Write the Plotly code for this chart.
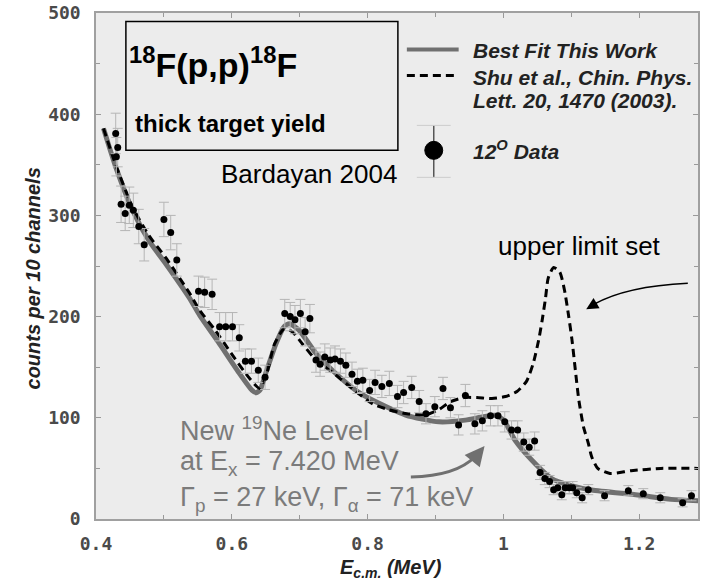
import plotly.graph_objects as go

# ---------------- data ----------------
data_x = [0.429, 0.432, 0.430, 0.437, 0.443, 0.449, 0.455, 0.463, 0.471, 0.500, 0.510, 0.519,
          0.551, 0.560, 0.571, 0.582, 0.591, 0.601, 0.611, 0.620, 0.629, 0.639, 0.649,
          0.678, 0.686, 0.693, 0.701, 0.708, 0.715, 0.724, 0.730, 0.737, 0.745, 0.752, 0.760,
          0.768, 0.777, 0.785, 0.793, 0.803, 0.811, 0.821, 0.832, 0.844, 0.853, 0.865, 0.876,
          0.886, 0.899, 0.911, 0.922, 0.934, 0.944, 0.958, 0.969, 0.981, 0.992, 1.002, 1.012,
          1.021, 1.030, 1.038, 1.046, 1.054, 1.061, 1.068, 1.074, 1.080, 1.086, 1.091, 1.097,
          1.102, 1.108, 1.116, 1.125, 1.149, 1.184, 1.206, 1.231, 1.264, 1.277]
data_y = [381, 367, 358, 311, 302, 310, 305, 289, 271, 296, 283, 256,
          225, 224, 222, 190, 190, 190, 179, 156, 156, 147, 140,
          203, 200, 197, 203, 185, 198, 157, 153, 160, 157, 158, 156,
          152, 143, 136, 137, 127, 135, 131, 134, 121, 125, 130, 116,
          104, 111, 129, 110, 93, 122, 94, 97, 102, 102, 96, 88,
          88, 76, 71, 77, 46, 40, 37, 29, 31, 24, 31, 31,
          31, 26, 21, 29, 23, 28, 25, 21, 16, 23]
data_err = [20, 19, 19, 18, 17, 18, 17, 17, 16, 17, 17, 16,
            15, 15, 15, 14, 14, 14, 13, 12, 12, 12, 12,
            14, 14, 14, 14, 14, 14, 12, 12, 13, 12, 13, 12,
            12, 12, 12, 12, 11, 12, 11, 12, 11, 11, 11, 11,
            10, 10, 11, 10, 10, 11, 10, 10, 10, 10, 10, 9,
            9, 9, 8, 9, 7, 6, 6, 5, 6, 5, 6, 6,
            6, 5, 5, 5, 5, 5, 5, 5, 4, 5]

fit_x = [0.411, 0.429, 0.454, 0.478, 0.503, 0.537, 0.553, 0.580, 0.610, 0.630, 0.636, 0.642,
         0.650, 0.665, 0.677, 0.685, 0.699, 0.724, 0.748, 0.783, 0.807, 0.856, 0.905, 0.944,
         0.970, 0.988, 1.000, 1.017, 1.042, 1.071, 1.100, 1.130, 1.198, 1.247, 1.290]
fit_y = [386, 348, 305, 275, 252, 219, 201, 175, 145, 127, 124.7, 128,
         144, 173, 190, 193, 186.6, 163.6, 147, 127, 117.5, 102.7, 96, 97.7,
         101, 102.5, 98, 78, 58, 40, 33, 28.6, 23.7, 19.4, 18]

shu_x = [0.411, 0.429, 0.454, 0.478, 0.503, 0.537, 0.553, 0.575, 0.601, 0.626, 0.641, 0.650,
         0.663, 0.677, 0.689, 0.704, 0.724, 0.748, 0.783, 0.807, 0.831, 0.858, 0.886, 0.905,
         0.922, 0.942, 0.961, 0.983, 1.003, 1.020, 1.034, 1.044, 1.052, 1.057, 1.062, 1.066,
         1.074, 1.083, 1.090, 1.096, 1.101, 1.106, 1.111, 1.118, 1.125, 1.130, 1.139, 1.157,
         1.188, 1.232, 1.290]
shu_y = [386, 350, 308, 280, 258, 224, 206, 187, 162, 139, 129, 140,
         173, 188, 185, 173, 157, 145, 126, 114, 108, 104, 103, 108,
         116, 120, 120, 119, 121, 126, 136, 154, 177, 196, 218, 238,
         248.5, 244, 226, 201, 177, 147, 118, 91, 75, 61.5, 50, 45,
         47.7, 50, 50]

x_tickvals = [0.4, 0.6, 0.8, 1.0, 1.2]
x_ticktext = ["0.4", "0.6", "0.8", "1", "1.2"]
y_tickvals = [0, 100, 200, 300, 400, 500]
y_ticktext = ["0", "100", "200", "300", "400", "500"]

# pixel -> data helpers for annotation placement
def X(px):
    return 0.4 + (px - 96) / 681.5

def Y(py):
    return (519 - py) / 1.013

fig = go.Figure()

fig.add_trace(go.Scatter(x=fit_x, y=fit_y, mode="lines", line=dict(color="#707070", width=5, shape="spline", smoothing=0.6),
                         showlegend=False, hoverinfo="skip"))
fig.add_trace(go.Scatter(x=shu_x, y=shu_y, mode="lines", line=dict(color="black", width=3, dash="8px,5px", shape="spline", smoothing=0.6),
                         showlegend=False, hoverinfo="skip"))
fig.add_trace(go.Scatter(x=data_x, y=data_y, mode="markers",
                         marker=dict(color="black", size=7),
                         error_y=dict(type="data", array=data_err, color="#b5b5b5", thickness=1, width=5),
                         showlegend=False))

SANS = "Liberation Sans, Arial, sans-serif"
ann = []
shapes = []

# title box
shapes.append(dict(type="rect", xref="x", yref="y", x0=X(126), x1=X(399), y0=Y(150), y1=Y(21),
                   line=dict(color="black", width=1.5), layer="above"))
ann.append(dict(x=X(127), y=Y(62), text="<b><sup>18</sup>F(p,p)<sup>18</sup>F</b>", showarrow=False,
                xanchor="left", yanchor="middle", font=dict(family=SANS, size=34, color="black")))
ann.append(dict(x=X(133), y=Y(123), text="<b>thick target yield</b>", showarrow=False,
                xanchor="left", yanchor="middle", font=dict(family=SANS, size=24, color="black")))
ann.append(dict(x=X(219), y=Y(174), text="Bardayan 2004", showarrow=False,
                xanchor="left", yanchor="middle", font=dict(family=SANS, size=26, color="black")))

# legend
shapes.append(dict(type="line", xref="x", yref="y", x0=X(408), x1=X(460), y0=Y(49), y1=Y(49),
                   line=dict(color="#707070", width=4)))
shapes.append(dict(type="line", xref="x", yref="y", x0=X(408), x1=X(460), y0=Y(75), y1=Y(75),
                   line=dict(color="black", width=3, dash="8px,5px")))
shapes.append(dict(type="line", xref="x", yref="y", x0=X(435), x1=X(435), y0=Y(125), y1=Y(177),
                   line=dict(color="#555555", width=1.5)))
shapes.append(dict(type="line", xref="x", yref="y", x0=X(418), x1=X(452), y0=Y(125), y1=Y(125),
                   line=dict(color="#cccccc", width=1)))
shapes.append(dict(type="line", xref="x", yref="y", x0=X(418), x1=X(452), y0=Y(177), y1=Y(177),
                   line=dict(color="#cccccc", width=1)))
shapes.append(dict(type="circle", xref="x", yref="y", x0=X(426), x1=X(444), y0=Y(159), y1=Y(141),
                   line=dict(color="black", width=1), fillcolor="black"))
LEGF = dict(family=SANS, size=21, color="#222222")
ann.append(dict(x=X(472), y=Y(50), text="<b><i>Best Fit This Work</i></b>", showarrow=False,
                xanchor="left", yanchor="middle", font=LEGF))
ann.append(dict(x=X(472), y=Y(77), text="<b><i>Shu et al., Chin. Phys.</i></b>", showarrow=False,
                xanchor="left", yanchor="middle", font=LEGF))
ann.append(dict(x=X(472), y=Y(100), text="<b><i>Lett. 20, 1470 (2003).</i></b>", showarrow=False,
                xanchor="left", yanchor="middle", font=LEGF))
ann.append(dict(x=X(472), y=Y(150), text="<b><i>12<sup>O</sup> Data</i></b>", showarrow=False,
                xanchor="left", yanchor="middle", font=LEGF))

# upper limit annotation
ann.append(dict(x=X(581), y=Y(246), text="upper limit set", showarrow=False,
                xanchor="center", yanchor="middle", font=dict(family=SANS, size=26, color="black")))
shapes.append(dict(type="path", xref="x", yref="y",
                   path=f"M {X(690)},{Y(283)} Q {X(628)},{Y(286)} {X(596)},{Y(304)}",
                   line=dict(color="black", width=1.5)))
ann.append(dict(x=X(588), y=Y(309), ax=12, ay=-7, text="", showarrow=True, arrowhead=2,
                arrowsize=1.6, arrowwidth=1.5, arrowcolor="black"))

# new level annotation
GRAY = dict(family=SANS, size=27, color="#7b7b7b")
ann.append(dict(x=X(178), y=Y(429), text="New <sup>19</sup>Ne Level", showarrow=False,
                xanchor="left", yanchor="middle", font=GRAY))
ann.append(dict(x=X(178), y=Y(463), text="at E<sub>x</sub> = 7.420 MeV", showarrow=False,
                xanchor="left", yanchor="middle", font=GRAY))
ann.append(dict(x=X(178), y=Y(499), text="Γ<sub>p</sub> = 27 keV, Γ<sub>α</sub> = 71 keV", showarrow=False,
                xanchor="left", yanchor="middle", font=GRAY))
shapes.append(dict(type="path", xref="x", yref="y",
                   path=f"M {X(412)},{Y(477)} Q {X(458)},{Y(476)} {X(477)},{Y(456)}",
                   line=dict(color="#707070", width=3)))
ann.append(dict(x=X(486), y=Y(446), ax=-9, ay=11, text="", showarrow=True, arrowhead=2,
                arrowsize=1.3, arrowwidth=3, arrowcolor="#707070"))

# axis titles
ann.append(dict(x=(20 - 96) / 604, xref="paper", y=Y(278), text="<b><i>counts per 10 channels</i></b>",
                showarrow=False, textangle=-90, font=dict(family=SANS, size=20, color="#222222")))
ann.append(dict(x=X(392), y=-0.097, yref="paper", text="<b><i>E<sub>c.m.</sub> (MeV)</i></b>",
                showarrow=False, yanchor="middle", font=dict(family=SANS, size=20, color="#222222")))

for a in ann:
    a.setdefault("xref", "x")
    a.setdefault("yref", "y")
    if a.get("showarrow"):
        a["axref"] = "pixel"
        a["ayref"] = "pixel"
        a["standoff"] = 0

TICKF = dict(family="DejaVu Sans Mono", size=18, color="#4a4a4a", weight="bold")

fig.update_layout(
    width=702, height=581,
    margin=dict(l=96, r=2, t=12, b=62),
    paper_bgcolor="white",
    plot_bgcolor="#ececec",
    annotations=ann,
    shapes=shapes,
    showlegend=False,
    xaxis=dict(range=[0.4, 1.2866], tickvals=x_tickvals, ticktext=x_ticktext, showgrid=False, zeroline=False,
               ticks="inside", ticklen=5, tickcolor="#999999", showline=True, linecolor="#a0a0a0", linewidth=1.5,
               mirror="ticks", tickfont=TICKF, ticklabelstandoff=8,
               minor=dict(dtick=0.1, tick0=0.4, ticks="inside", ticklen=4, tickcolor="#999999")),
    yaxis=dict(range=[0, 500], tickvals=y_tickvals, ticktext=y_ticktext, showgrid=False, zeroline=False,
               ticks="inside", ticklen=5, tickcolor="#999999", showline=True, linecolor="#a0a0a0", linewidth=1.5,
               mirror="ticks", tickfont=TICKF, ticklabelstandoff=10,
               minor=dict(dtick=50, tick0=0, ticks="inside", ticklen=4, tickcolor="#999999")),
)

fig.write_html("out.html")
